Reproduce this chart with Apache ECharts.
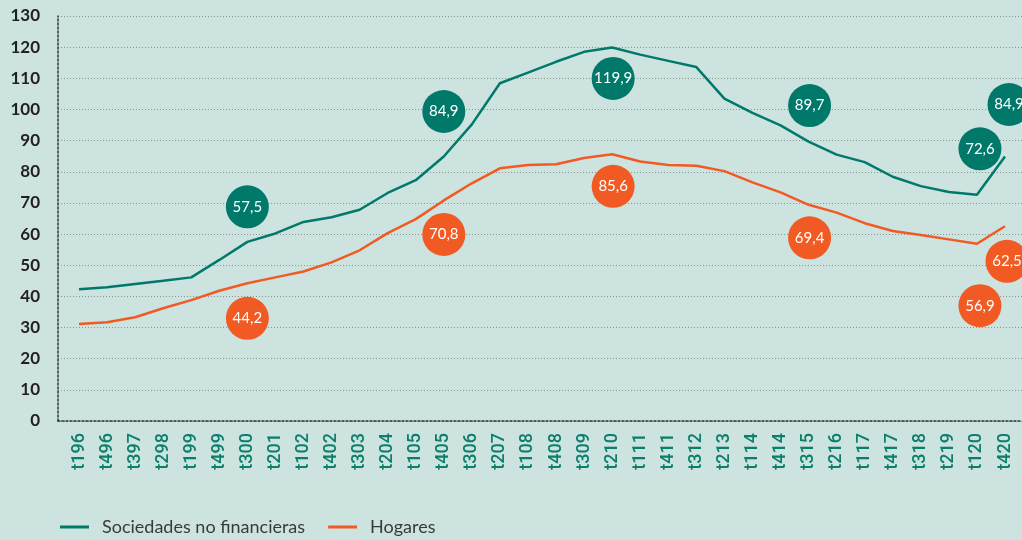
<!doctype html>
<html>
    <head>
        <meta charset="utf-8">
        <style>
            html, body { margin: 0; padding: 0; background: #cde3e0; }
            #main { width: 1022px; height: 540px; }
        </style>
    </head>
    <body>
        <div id="main"></div>
        <script src="https://cdn.jsdelivr.net/npm/echarts@6/dist/echarts.min.js"></script>
        <script>
            var categories = ['t196', 't496', 't397', 't298', 't199', 't499', 't300', 't201', 't102', 't402',
                't303', 't204', 't105', 't405', 't306', 't207', 't108', 't408', 't309', 't210',
                't111', 't411', 't312', 't213', 't114', 't414', 't315', 't216', 't117', 't417',
                't318', 't219', 't120', 't420'];
            var sociedades = [42.3, 42.9, 44.0, 45.0, 46.1, 51.7, 57.5, 60.2, 63.9, 65.4,
                67.8, 73.2, 77.3, 84.9, 95.2, 108.4, 111.8, 115.3, 118.5, 119.9,
                117.6, 115.6, 113.6, 103.5, 98.9, 94.9, 89.7, 85.5, 83.1, 78.4,
                75.4, 73.5, 72.6, 84.9];
            var hogares = [31.1, 31.7, 33.3, 36.2, 38.8, 41.8, 44.2, 46.1, 48.0, 50.9,
                54.8, 60.3, 64.8, 70.8, 76.3, 81.1, 82.2, 82.4, 84.4, 85.6,
                83.3, 82.2, 81.9, 80.2, 76.6, 73.4, 69.4, 66.9, 63.5, 61.0,
                59.7, 58.3, 56.9, 62.5];
            // points that carry a value bubble
            var labelled = [6, 13, 19, 26, 32, 33];

            // bubble offsets in px from the point (layout only)
            var offSociedades = [[0, -35], [0, -45], [1, 31], [1, -36], [3, -46], [4, -52]];
            var offHogares = [[0, 35], [0, 34], [1, 32], [1, 33], [3, 62], [2, 35]];

            var GREEN = '#00796a';
            var ORANGE = '#f15a22';

            function bubbles(values, offsets, color) {
                return {
                    symbol: 'circle',
                    symbolSize: 43,
                    itemStyle: { color: color },
                    label: {
                        color: '#fff',
                        fontFamily: 'Lato',
                        fontSize: 15,
                        formatter: function (p) { return p.value.toFixed(1).replace('.', ','); }
                    },
                    data: labelled.map(function (idx, k) {
                        return {
                            coord: [idx, values[idx]],
                            value: values[idx],
                            symbolOffset: offsets[k]
                        };
                    })
                };
            }

            var chart = echarts.init(document.getElementById('main'));

            chart.setOption({
                backgroundColor: '#cde3e0',
                animation: false,
                legend: {
                    left: 55,
                    top: 513,
                    icon: 'rect',
                    itemWidth: 29,
                    itemHeight: 3,
                    itemGap: 23,
                    textStyle: {
                        color: '#3a3a3a',
                        fontFamily: 'Lato',
                        fontSize: 18,
                        padding: [0, 0, 0, 8]
                    },
                    data: ['Sociedades no financieras', 'Hogares']
                },
                grid: [
                    { left: 58, right: 0, top: 16, bottom: 119 },
                    { left: 79, right: 17, top: 16, bottom: 119 }
                ],
                xAxis: [{
                    gridIndex: 0,
                    type: 'value',
                    min: 0,
                    max: 1,
                    axisLabel: { show: false },
                    axisTick: { show: false },
                    splitLine: { show: false },
                    axisLine: { lineStyle: { color: '#333', type: [2, 2], width: 1.5 } }
                }, {
                    gridIndex: 1,
                    type: 'category',
                    boundaryGap: false,
                    data: categories,
                    axisLine: { show: false },
                    axisTick: { show: false },
                    axisLabel: {
                        interval: 0,
                        rotate: 90,
                        margin: 12,
                        color: '#0b7e6c',
                        fontFamily: 'Roboto',
                        fontWeight: 500,
                        fontSize: 18
                    }
                }],
                yAxis: [{
                    gridIndex: 0,
                    type: 'value',
                    min: 0,
                    max: 130,
                    interval: 10,
                    axisLine: { show: true, lineStyle: { color: '#333', type: [2, 2], width: 1.5 } },
                    axisTick: { show: false },
                    axisLabel: {
                        margin: 18,
                        color: '#231f20',
                        fontFamily: 'Lato',
                        fontWeight: 'bold',
                        fontSize: 17
                    },
                    splitLine: { lineStyle: { color: '#8a9492', type: [1, 2], width: 1 } }
                }, {
                    gridIndex: 1,
                    type: 'value',
                    min: 0,
                    max: 130,
                    interval: 10,
                    show: false
                }],
                series: [{
                    name: 'Sociedades no financieras',
                    type: 'line',
                    xAxisIndex: 1,
                    yAxisIndex: 1,
                    data: sociedades,
                    symbol: 'none',
                    clip: false,
                    color: GREEN,
                    lineStyle: { width: 2.5, color: GREEN },
                    markPoint: bubbles(sociedades, offSociedades, GREEN)
                }, {
                    name: 'Hogares',
                    type: 'line',
                    xAxisIndex: 1,
                    yAxisIndex: 1,
                    data: hogares,
                    symbol: 'none',
                    clip: false,
                    color: ORANGE,
                    lineStyle: { width: 2.5, color: ORANGE },
                    markPoint: bubbles(hogares, offHogares, ORANGE)
                }]
            });

            window.onresize = chart.resize;
        </script>
    </body>
</html>
